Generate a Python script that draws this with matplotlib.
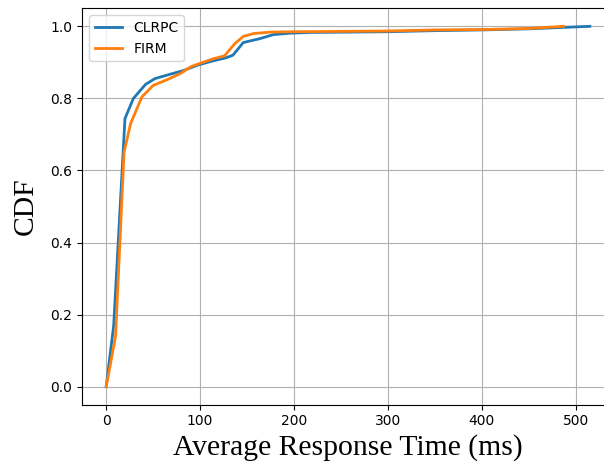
import matplotlib
matplotlib.use("Agg")
import matplotlib.pyplot as plt

# Average response time (ms) vs. cumulative fraction
clrpc_x = [0, 8, 20, 29, 42, 52, 68, 82, 97, 112, 128, 135, 146, 164, 178, 196, 217, 260, 300, 350, 400, 450, 487, 515]
clrpc_y = [0.0, 0.17, 0.744, 0.80, 0.839, 0.855, 0.867, 0.877, 0.892, 0.903, 0.913, 0.92, 0.955, 0.966, 0.977, 0.981, 0.983, 0.984, 0.985, 0.988, 0.99, 0.993, 0.997, 1.0]

firm_x = [0, 10, 19, 26, 38, 50, 65, 79, 91, 114, 126, 137, 146, 157, 175, 200, 250, 300, 350, 400, 450, 487]
firm_y = [0.0, 0.14, 0.65, 0.73, 0.804, 0.836, 0.852, 0.869, 0.889, 0.91, 0.918, 0.952, 0.972, 0.98, 0.984, 0.985, 0.986, 0.987, 0.99, 0.991, 0.994, 1.0]

fig = plt.figure(figsize=(6.04, 4.62), dpi=100)
ax = fig.add_axes([82.0 / 604, 57.3 / 462, 532.0 / 604, 396.4 / 462])

ax.plot(clrpc_x, clrpc_y, color="#1f77b4", linewidth=2, label="CLRPC")
ax.plot(firm_x, firm_y, color="#ff7f0e", linewidth=2, label="FIRM")

ax.grid(True)
ax.legend(loc="upper left")
ax.set_xlabel("Average Response Time (ms)", fontsize=21.3, family="Liberation Serif")
ax.set_ylabel("CDF", fontsize=21.3, family="Liberation Serif", labelpad=8)

fig.savefig("out.png", dpi=100)
